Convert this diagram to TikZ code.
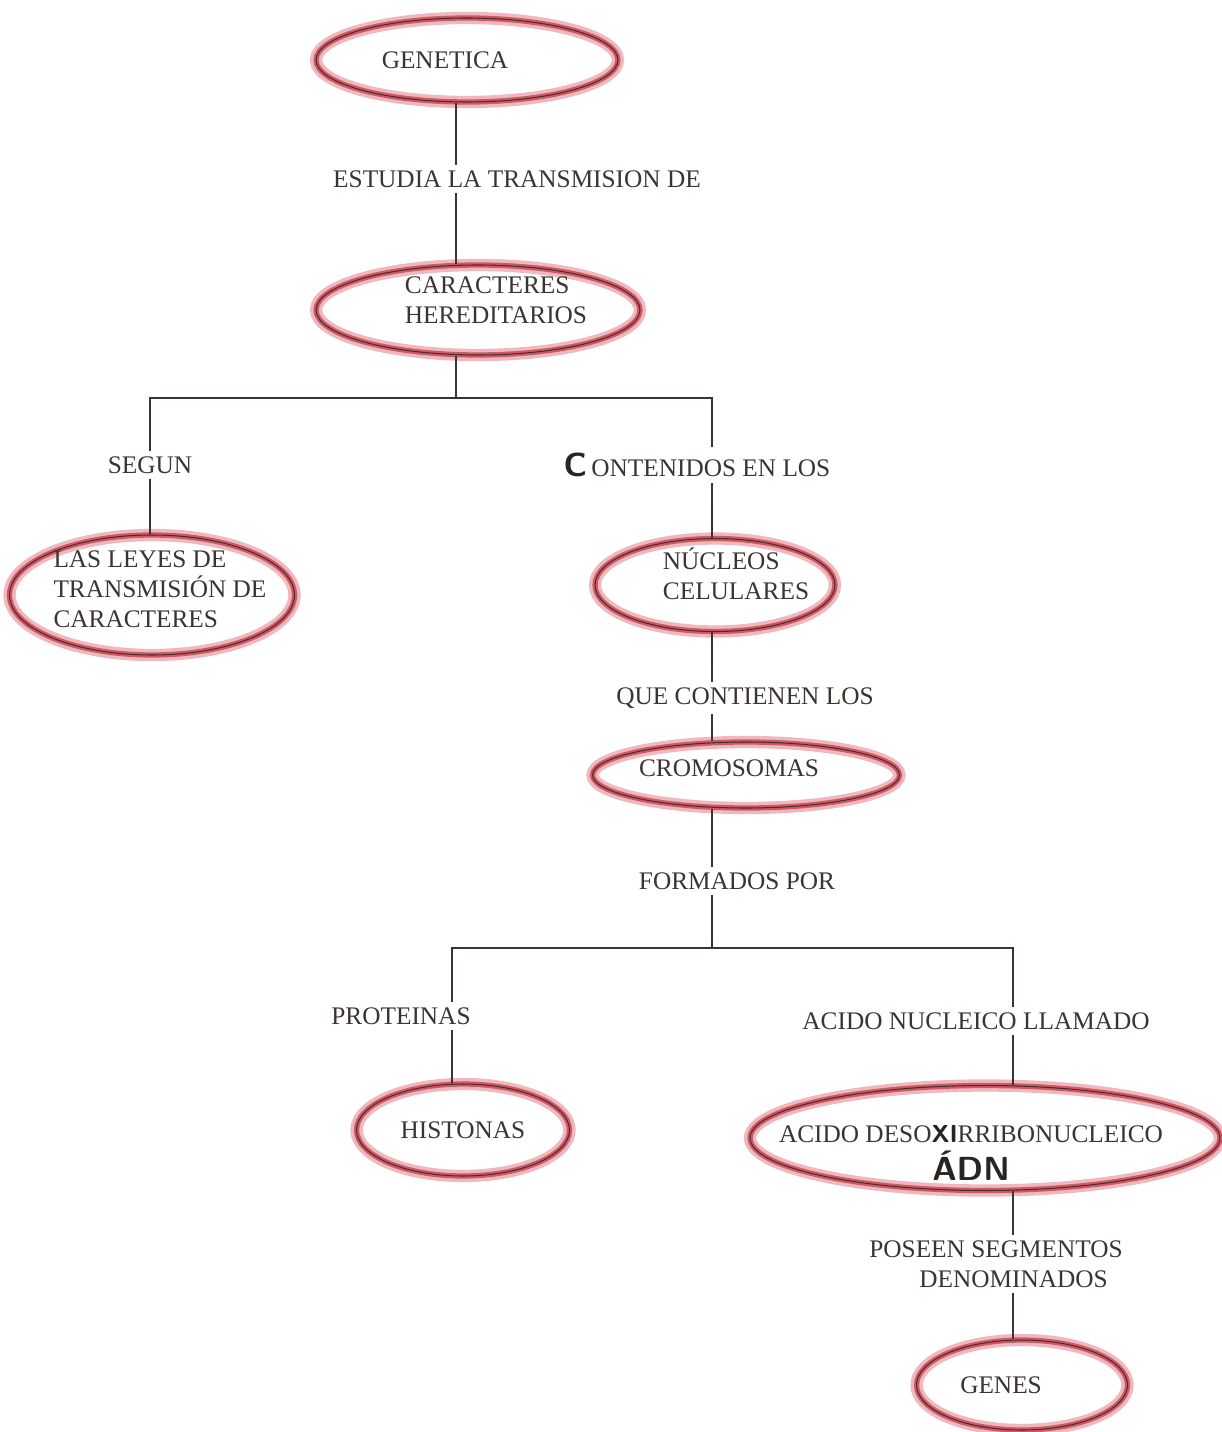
\documentclass[tikz,border=0pt]{standalone}
\usepackage{fontspec}
\setmainfont{Liberation Serif}
\usetikzlibrary{shapes.geometric,calc}
\definecolor{ink}{HTML}{3B3431}
\definecolor{pen}{HTML}{2A2420}
\definecolor{pencil}{HTML}{CC3344}
\newcommand{\mapfont}{\fontsize{14.4}{17}\selectfont}
\newcommand{\hand}[2][16]{{\sffamily\bfseries\color{pen}\fontsize{#1}{#1}\selectfont #2}}
\tikzset{concept/.style={ellipse,draw=ink,line width=0.6pt,inner sep=0pt,preaction={draw=pencil,line width=7pt,opacity=0.35},preaction={draw=pencil,line width=3pt,opacity=0.75}}, txt/.style={text=ink,font=\mapfont,align=left,inner sep=0pt}, lbl/.style={text=ink,font=\mapfont,inner sep=3pt,align=left}, link/.style={draw=ink,line width=0.6pt}}

\begin{document}
\begin{tikzpicture}[x=0.02cm,y=-0.02cm]
\useasboundingbox (0,0) rectangle (1222,1432);
\node[concept,minimum width=6.04cm,minimum height=1.68cm,label={[txt,xshift=-0.44cm]center:GENETICA}](gen) at (467,60){};
\node[concept,minimum width=6.48cm,minimum height=1.8cm,label={[txt,xshift=0.36cm,yshift=0.2cm]center:{CARACTERES\\HEREDITARIOS}}](car) at (478,310){};
\node[concept,minimum width=5.7cm,minimum height=2.4cm,label={[txt,xshift=0.16cm,yshift=0.12cm]center:{LAS LEYES DE\\TRANSMISIÓN DE\\CARACTERES}}](leyes) at (152,595){};
\node[concept,minimum width=4.8cm,minimum height=1.86cm,label={[txt,xshift=0.42cm,yshift=0.22cm]center:{NÚCLEOS\\CELULARES}}](nuc) at (715,585){};
\node[concept,minimum width=6.14cm,minimum height=1.32cm,label={[txt,xshift=-0.34cm,yshift=0.14cm]center:CROMOSOMAS}](crom) at (746,775){};
\node[concept,minimum width=4.26cm,minimum height=1.84cm,label={[txt]center:HISTONAS}](hist) at (463,1130){};
\node[concept,minimum width=9.4cm,minimum height=2.1cm,label={[txt,align=center,xshift=-0.28cm,yshift=-0.3cm]center:{ACIDO DESO\hand[14]{XI}RRIBONUCLEICO\\[5pt]\hand[19]{ÁDN}}}](adn) at (985,1138){};
\node[concept,minimum width=4.22cm,minimum height=1.8cm,label={[txt,xshift=-0.42cm]center:GENES}](genes) at (1022,1385){};
\node[lbl](est) at (517,179){ESTUDIA LA TRANSMISION DE};
\node[lbl](segun) at (150,465){SEGUN};
\node[lbl](cont) at (697,465){\hand[19]{C}\,ONTENIDOS EN LOS};
\node[lbl](que) at (745,698){QUE CONTIENEN LOS};
\node[lbl](form) at (737,881){FORMADOS POR};
\node[lbl](prot) at (401,1016){PROTEINAS};
\node[lbl](acido) at (976,1021){ACIDO NUCLEICO LLAMADO};
\node[lbl,align=left](pos) at (996,1264){POSEEN SEGMENTOS\\\hspace*{1cm}DENOMINADOS};
\coordinate (cA) at (456,0);\coordinate (cC) at (712,0);\coordinate (cD) at (452,0);\coordinate (cE) at (1013,0);
\coordinate (j1) at (456,398);\coordinate (j2) at (712,948);
\draw[link](gen.south -| cA)--(est.north -| cA);\draw[link](est.south -| cA)--(car.north -| cA);\draw[link](car.south -| cA)--(j1);
\draw[link](segun.north)|-(j1)-|(cont.north -| cC);
\draw[link](segun.south)--(leyes.north -| segun);\draw[link](cont.south -| cC)--(nuc.north -| cC);
\foreach \x/\y in {nuc/que,que/crom,crom/form}{\draw[link](\x.south -| cC)--(\y.north -| cC);}
\draw[link](form.south -| cC)--(j2);
\draw[link](prot.north -| cD)|-(j2)-|(acido.north -| cE);
\draw[link](prot.south -| cD)--(hist.north -| cD);
\foreach \x/\y in {acido/adn,adn/pos,pos/genes}{\draw[link](\x.south -| cE)--(\y.north -| cE);}
\end{tikzpicture}
\end{document}
